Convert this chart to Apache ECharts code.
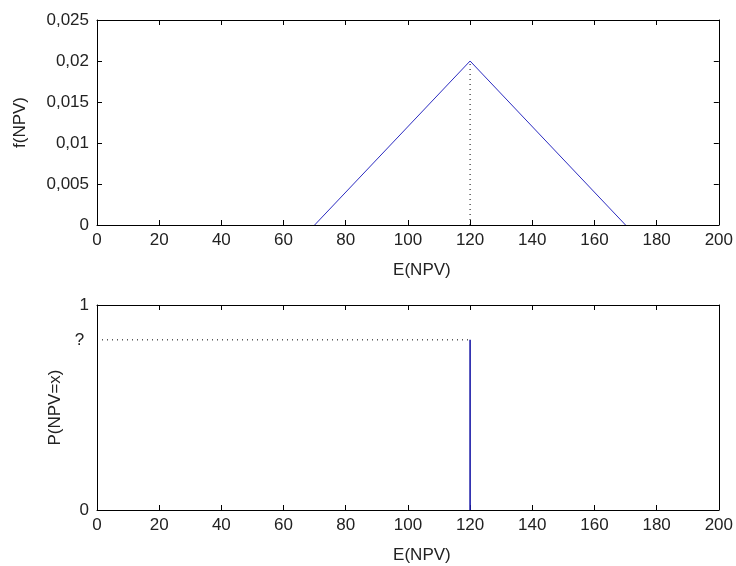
<!DOCTYPE html>
<html><head><meta charset="utf-8">
<script src="https://cdn.jsdelivr.net/npm/echarts@6/dist/echarts.min.js"></script>
<style>html,body{margin:0;padding:0;background:#fff}#c{width:736px;height:566px}</style>
</head><body><div id="c"></div>
<script>
// Top panel: triangular density of NPV
const triX = [70, 120, 170];
const triY = [0, 0.02, 0];
const meanLineX = [120, 120];
const meanLineY = [0, 0.02];
// Bottom panel: point probability at E(NPV)
const spikeX = [120, 120];
const spikeY = [0, 0.83];
const levelX = [0, 120];
const levelY = [0.83, 0.83];
const bottomYTickValues = [0, 0.83, 1];
const bottomYTickLabels = ['0', '? ', '1'];

const FONT = 'Liberation Sans';
const txt = {color: '#222', fontFamily: FONT, fontSize: 17};
const axLine = {show: true, onZero: false, lineStyle: {color: '#000', width: 1}};
const tick = {show: true, inside: true, length: 5, lineStyle: {color: '#000'}};

function xAx(gi, pos, labels, name, nameGap) {
  return {
    type: 'value', gridIndex: gi, position: pos, min: 0, max: 200, interval: 20,
    axisLine: axLine, axisTick: tick, splitLine: {show: false},
    axisLabel: Object.assign({show: labels, margin: 7}, txt),
    name: name, nameLocation: 'middle', nameGap: nameGap,
    nameTextStyle: Object.assign({padding: [0, 0, 0, 28]}, txt)
  };
}

const option = {
  animation: false,
  backgroundColor: '#fff',
  grid: [
    {left: 97, right: 14, top: 20, height: 205},
    {left: 97, right: 14, top: 305, height: 205}
  ],
  xAxis: [
    xAx(0, 'bottom', true, 'E(NPV)', 37),
    xAx(0, 'top', false, '', 0),
    xAx(1, 'bottom', true, 'E(NPV)', 37),
    xAx(1, 'top', false, '', 0)
  ],
  yAxis: [
    {type: 'value', gridIndex: 0, position: 'left', min: 0, max: 0.025, interval: 0.005,
     axisLine: axLine, axisTick: tick, splitLine: {show: false},
     axisLabel: Object.assign({margin: 8, formatter: v => String(+v.toFixed(3)).replace('.', ',')}, txt),
     name: 'f(NPV)', nameLocation: 'middle', nameGap: 68, nameTextStyle: txt},
    {type: 'value', gridIndex: 0, position: 'right', min: 0, max: 0.025, interval: 0.005,
     axisLine: axLine, axisTick: tick, axisLabel: {show: false}, splitLine: {show: false}},
    {type: 'value', gridIndex: 1, position: 'left', min: 0, max: 1,
     axisLine: axLine, axisTick: Object.assign({customValues: [0, 1]}, tick), splitLine: {show: false},
     axisLabel: Object.assign({margin: 8, customValues: bottomYTickValues,
       formatter: v => bottomYTickLabels[bottomYTickValues.indexOf(v)]}, txt),
     name: 'P(NPV=x)', nameLocation: 'middle', nameGap: 33, nameTextStyle: txt},
    {type: 'value', gridIndex: 1, position: 'right', min: 0, max: 1,
     axisLine: axLine, axisTick: Object.assign({customValues: [0, 1]}, tick),
     axisLabel: {show: false}, splitLine: {show: false}}
  ],
  series: [
    {type: 'line', xAxisIndex: 0, yAxisIndex: 0, symbol: 'none',
     data: meanLineX.map((x, i) => [x, meanLineY[i]]),
     lineStyle: {color: '#000', width: 1, type: [1, 4]}},
    {type: 'line', xAxisIndex: 0, yAxisIndex: 0, symbol: 'none',
     data: triX.map((x, i) => [x, triY[i]]),
     lineStyle: {color: '#2b2bc0', width: 1}},
    {type: 'line', xAxisIndex: 2, yAxisIndex: 2, symbol: 'none',
     data: levelX.map((x, i) => [x, levelY[i]]),
     lineStyle: {color: '#000', width: 1, type: [1, 4]}},
    {type: 'line', xAxisIndex: 2, yAxisIndex: 2, symbol: 'none',
     data: spikeX.map((x, i) => [x, spikeY[i]]),
     lineStyle: {color: '#1c1ca8', width: 1.6}}
  ]
};
echarts.init(document.getElementById('c'), null, {renderer: 'canvas'}).setOption(option);
</script></body></html>
